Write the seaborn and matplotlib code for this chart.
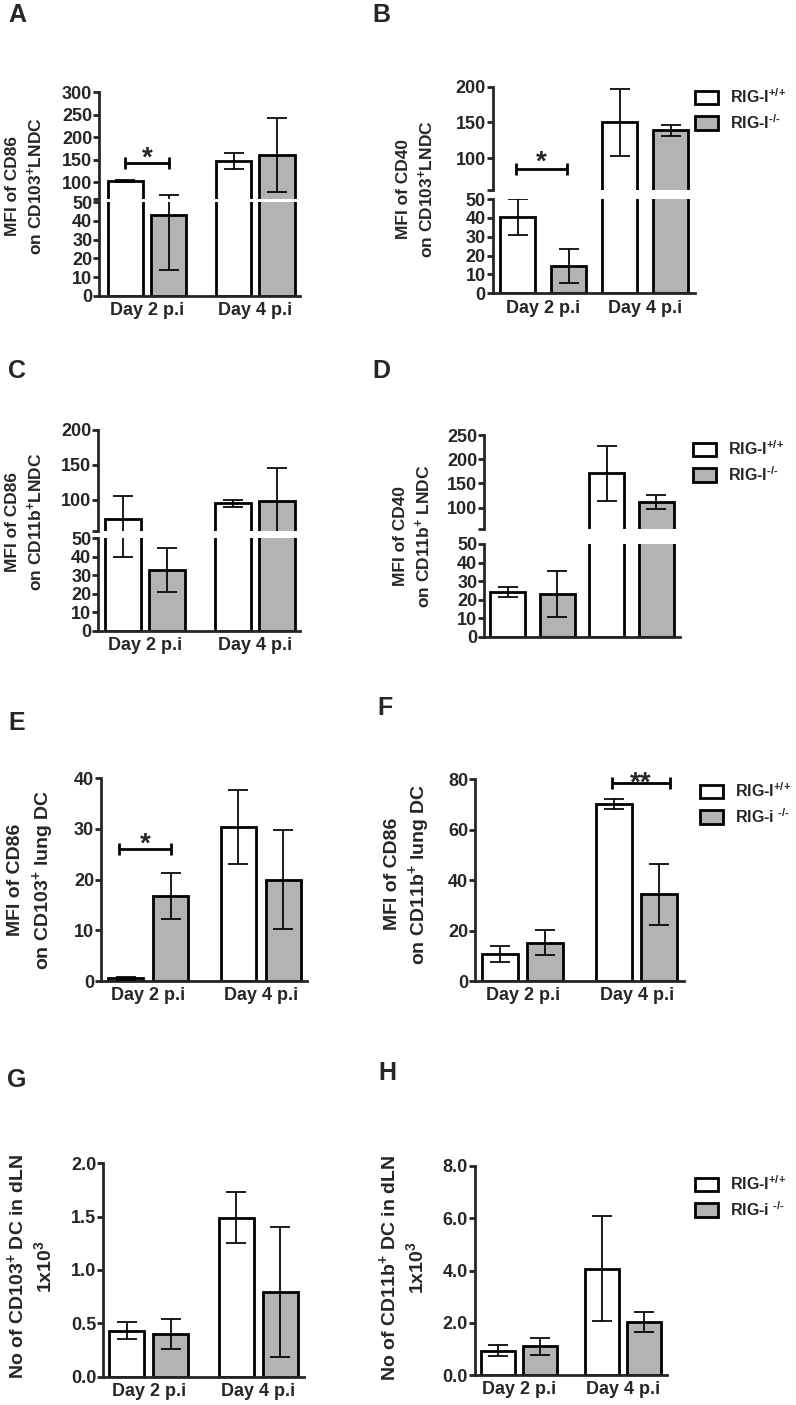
import numpy as np
import pandas as pd
import matplotlib
matplotlib.use('Agg')
import matplotlib.pyplot as plt
from matplotlib.patches import Patch
import seaborn as sns

# ---- data (mean, error) ----
days = ['Day 2 p.i', 'Day 4 p.i']
genotypes = ['RIG-I+/+', 'RIG-I-/-']

a_wt, a_wt_err = [103, 147], [2, 18]
a_ko, a_ko_err = [43, 161], [29, 83]

b_wt, b_wt_err = [40.5, 150], [9.5, 47]
b_ko, b_ko_err = [14.5, 139], [8.8, 7.5]

c_wt, c_wt_err = [73, 95], [33, 5]
c_ko, c_ko_err = [33, 99], [12, 46]

d_wt, d_wt_err = [24, 171], [2.7, 57]
d_ko, d_ko_err = [23, 111], [12.5, 14.5]

e_wt, e_wt_err = [0.5, 30.4], [0.3, 7.3]
e_ko, e_ko_err = [16.8, 20], [4.6, 9.8]

f_wt, f_wt_err = [10.7, 70.2], [3.2, 2]
f_ko, f_ko_err = [15.2, 34.4], [5, 12]

g_wt, g_wt_err = [0.43, 1.49], [0.08, 0.24]
g_ko, g_ko_err = [0.40, 0.79], [0.14, 0.61]

h_wt, h_wt_err = [0.93, 4.07], [0.2, 2.02]
h_ko, h_ko_err = [1.1, 2.03], [0.33, 0.4]

legend_plain = [r'RIG-I$^{\text{+/+}}$', r'RIG-I$^{\text{-/-}}$']
legend_lower = [r'RIG-I$^{\text{+/+}}$', r'RIG-i $^{\text{-/-}}$']

# ---- style ----
sns.set_style('ticks')
plt.rcParams['font.family'] = ['Liberation Sans', 'DejaVu Sans']
plt.rcParams['font.weight'] = 'bold'
plt.rcParams['axes.labelweight'] = 'bold'
plt.rcParams['mathtext.fontset'] = 'custom'
plt.rcParams['mathtext.rm'] = 'Liberation Sans:bold'
plt.rcParams['mathtext.bf'] = 'Liberation Sans:bold'
plt.rcParams['mathtext.it'] = 'Liberation Sans:bold'
plt.rcParams['mathtext.default'] = 'bf'

W, H = 796, 1405
GRAY = '#b3b3b3'
LW = 2.0      # bar edges / spines
ELW = 1.25    # error bars
CAP = 7
TICK_FS = 13

fig = plt.figure(figsize=(W / 100, H / 100), dpi=100)


def px_axes(left, top, right, bottom):
    return fig.add_axes([left / W, 1 - bottom / H, (right - left) / W, (bottom - top) / H])


def frame(wt, ko):
    return pd.DataFrame({
        'day': days * 2,
        'genotype': [genotypes[0]] * 2 + [genotypes[1]] * 2,
        'value': wt + ko,
    })


def draw_bars(ax, wt, wt_err, ko, ko_err, width, gap):
    sns.barplot(data=frame(wt, ko), x='day', y='value', hue='genotype',
                order=days, hue_order=genotypes, palette=['white', GRAY],
                saturation=1, edgecolor='black', linewidth=LW,
                width=width, gap=gap, errorbar=None, legend=False, ax=ax)
    patches = sorted(ax.patches, key=lambda p: p.get_x())
    xs = [p.get_x() + p.get_width() / 2 for p in patches]
    hs = [p.get_height() for p in patches]
    errs = [wt_err[0], ko_err[0], wt_err[1], ko_err[1]]
    ax.errorbar(xs, hs, yerr=errs, fmt='none', ecolor='black',
                elinewidth=ELW, capsize=CAP, capthick=ELW, zorder=3)
    return xs


def style(ax, xlim, ylim, yticks, fmt=None, show_x=True, upper=False):
    sns.despine(ax=ax)
    ax.set_xlim(*xlim)
    ax.set_ylim(*ylim)
    ax.set_yticks(yticks)
    if fmt:
        ax.set_yticklabels([fmt % t for t in yticks])
    ax.spines['left'].set_linewidth(LW)
    ax.spines['bottom'].set_linewidth(LW)
    ax.tick_params(axis='y', length=4.5, width=LW, labelsize=TICK_FS, pad=0.5)
    ax.tick_params(axis='x', length=0, labelsize=TICK_FS, pad=4.5)
    ax.set_xlabel('')
    ax.set_ylabel('')
    if not show_x:
        ax.tick_params(axis='x', labelbottom=False)
    if upper:
        ax.spines['bottom'].set_visible(False)
        ax.tick_params(axis='x', labelbottom=False)
        ax.set_yticks([ylim[0]], minor=True)
        ax.tick_params(axis='y', which='minor', length=4.5, width=LW)


def broken_panel(left, right, up, low, xlim, width, gap, wt, wt_err, ko, ko_err, show_x=True):
    ax_up = px_axes(left, up[0], right, up[1])
    ax_lo = px_axes(left, low[0], right, low[1])
    xs = draw_bars(ax_up, wt, wt_err, ko, ko_err, width, gap)
    draw_bars(ax_lo, wt, wt_err, ko, ko_err, width, gap)
    style(ax_up, xlim, up[2], up[3], upper=True)
    style(ax_lo, xlim, (0, 50), list(range(0, 51, 10)), show_x=show_x)
    return ax_up, ax_lo, xs


def single_panel(left, right, top, bottom, xlim, ylim, yticks, width, gap,
                 wt, wt_err, ko, ko_err, fmt=None):
    ax = px_axes(left, top, right, bottom)
    xs = draw_bars(ax, wt, wt_err, ko, ko_err, width, gap)
    style(ax, xlim, ylim, yticks, fmt=fmt)
    return ax, xs


def bracket(ax, x1, x2, y, stars, dy):
    ax.plot([x1, x2], [y, y], color='black', lw=2.0, marker='|', ms=9,
            mew=2.0, solid_capstyle='butt', clip_on=False, zorder=4)
    ax.annotate(stars, xy=((x1 + x2) / 2, y), xytext=(0, dy),
                textcoords='offset points', ha='center', va='baseline',
                fontsize=20, fontweight='bold')


def legend(ax, labels, x, y):
    handles = [Patch(facecolor='white', edgecolor='black', linewidth=LW),
               Patch(facecolor=GRAY, edgecolor='black', linewidth=LW)]
    ax.legend(handles=handles, labels=labels, loc='upper left',
              bbox_to_anchor=(x / W, 1 - y / H), bbox_transform=fig.transFigure,
              frameon=False, fontsize=11.5, handlelength=1.45, handleheight=0.9,
              handletextpad=0.75, labelspacing=0.45, borderpad=0, borderaxespad=0)


def ylabel(text, x, y, fs):
    fig.text(x / W, 1 - y / H, text, rotation=90, ha='center', va='center',
             multialignment='center', fontsize=fs, fontweight='bold', linespacing=1.3)


def letter(s, x, y):
    fig.text(x / W, 1 - y / H, s, ha='left', va='top', fontsize=18, fontweight='bold')


# ---- A ----
upA, loA, xsA = broken_panel(99.3, 300, (92.3, 199, (63, 300), [100, 150, 200, 250, 300]),
                             (202.3, 295.7), (-0.438, 1.412), 0.8, 0.19,
                             a_wt, a_wt_err, a_ko, a_ko_err)
bracket(upA, xsA[0], xsA[1], 144, '*', -2.5)

# ---- B ----
upB, loB, xsB = broken_panel(492.7, 695, (86.7, 190, (55.7, 200), [100, 150, 200]),
                             (199, 293.3), (-0.496, 1.49), 1.0, 0.32,
                             b_wt, b_wt_err, b_ko, b_ko_err)
bracket(upB, xsB[0] - 0.02, xsB[1] - 0.02, 85, '*', -0.5)
legend(upB, legend_plain, 695, 87)

# ---- C ----
upC, loC, xsC = broken_panel(98.3, 300, (430, 531, (55.7, 200), [100, 150, 200]),
                             (538.3, 630.7), (-0.425, 1.41), 0.8, 0.19,
                             c_wt, c_wt_err, c_ko, c_ko_err)

# ---- D ----
upD, loD, xsD = broken_panel(484.3, 680, (435, 529, (56, 250), [100, 150, 200, 250]),
                             (544, 636.7), (-0.487, 1.49), 1.0, 0.29,
                             d_wt, d_wt_err, d_ko, d_ko_err, show_x=False)
legend(upD, legend_plain, 693, 439)

# ---- E ----
axE, xsE = single_panel(101, 306.7, 778.3, 981, (-0.42, 1.41), (0, 40), [0, 10, 20, 30, 40],
                        0.8, 0.22, e_wt, e_wt_err, e_ko, e_ko_err)
bracket(axE, xsE[0] - 0.06, xsE[1], 26, '*', -1.5)

# ---- F ----
axF, xsF = single_panel(475, 684, 779.3, 981, (-0.417, 1.415), (0, 80), [0, 20, 40, 60, 80],
                        0.8, 0.21, f_wt, f_wt_err, f_ko, f_ko_err)
bracket(axF, xsF[2] - 0.02, xsF[3] + 0.09, 78.4, '**', -5)
legend(axF, legend_lower, 700, 781)

# ---- G ----
axG, xsG = single_panel(103.3, 304, 1163.3, 1376.7, (-0.414, 1.416), (0, 2.0),
                        [0, 0.5, 1.0, 1.5, 2.0], 0.8, 0.2,
                        g_wt, g_wt_err, g_ko, g_ko_err, fmt='%.1f')

# ---- H ----
axH, xsH = single_panel(475, 666.7, 1166, 1375, (-0.418, 1.415), (0, 8.0),
                        [0, 2.0, 4.0, 6.0, 8.0], 0.8, 0.19,
                        h_wt, h_wt_err, h_ko, h_ko_err, fmt='%.1f')
legend(axH, legend_lower, 695, 1174)

# ---- axis titles ----
ylabel('MFI of CD86\non CD103$^{+}$LNDC', 25, 186, 12.5)
ylabel('MFI of CD40\non CD103$^{+}$LNDC', 416, 189, 12.5)
ylabel('MFI of CD86\non CD11b$^{+}$LNDC', 25, 522, 12.5)
ylabel('MFI of CD40\non CD11b$^{+}$ LNDC', 413, 536, 12.5)
ylabel('MFI of CD86\non CD103$^{+}$ lung DC', 31.7, 880, 14)
ylabel('MFI of CD86\non CD11b$^{+}$ lung DC', 408, 874, 14)
ylabel('No of CD103$^{+}$ DC in dLN\n1x10$^{3}$', 30, 1267, 14)
ylabel('No of CD11b$^{+}$ DC in dLN\n1x10$^{3}$', 402, 1268, 14)

# ---- panel letters ----
for s, x, y in [('A', 8, 3), ('B', 372, 3), ('C', 8, 359), ('D', 372, 359),
                ('E', 8, 711), ('F', 377, 696), ('G', 7, 1068), ('H', 378, 1061)]:
    letter(s, x, y)

fig.savefig('out.png', dpi=100)
